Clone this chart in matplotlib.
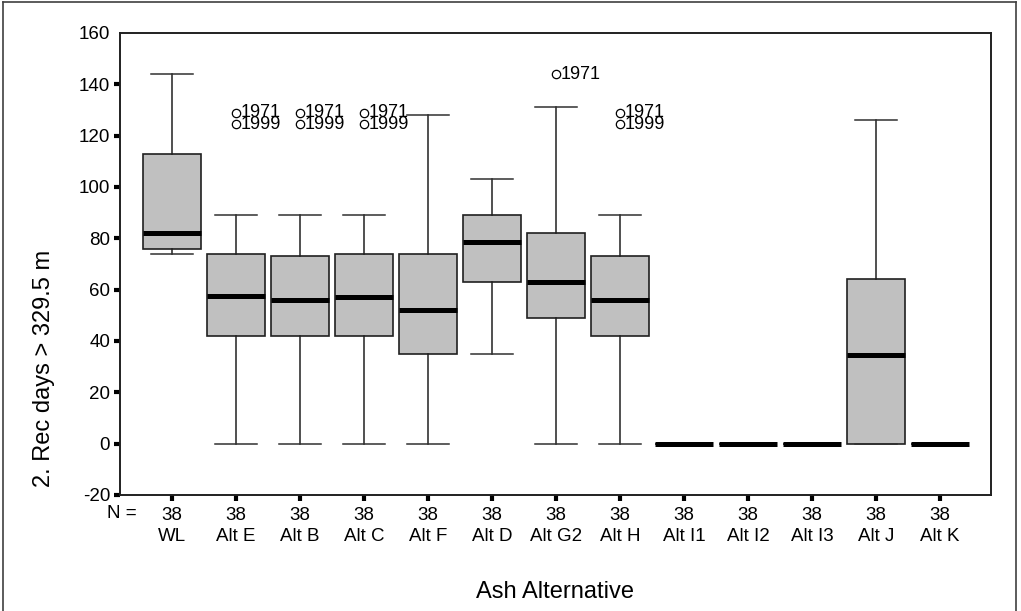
import matplotlib.pyplot as plt
from matplotlib.lines import Line2D

plt.rcParams['font.family'] = ['Liberation Sans', 'DejaVu Sans']
plt.rcParams['axes.unicode_minus'] = False

# box statistics
groups = ["WL", "Alt E", "Alt B", "Alt C", "Alt F", "Alt D", "Alt G2",
          "Alt H", "Alt I1", "Alt I2", "Alt I3", "Alt J", "Alt K"]
counts = [38, 38, 38, 38, 38, 38, 38, 38, 38, 38, 38, 38, 38]
whis_lo = [74, 0, 0, 0, 0, 35, 0, 0, 0, 0, 0, 0, 0]
q1 = [76, 42, 42, 42, 35, 63, 49, 42, 0, 0, 0, 0, 0]
median = [82, 57.5, 56, 57, 52, 78.5, 63, 56, 0, 0, 0, 34.5, 0]
q3 = [113, 74, 73, 74, 74, 89, 82, 73, 0, 0, 0, 64, 0]
whis_hi = [144, 89, 89, 89, 128, 103, 131, 89, 0, 0, 0, 126, 0]

# outliers: group index, value, case label
out_group = [1, 1, 2, 2, 3, 3, 6, 7, 7]
out_value = [129, 124.5, 129, 124.5, 129, 124.5, 144, 129, 124.5]
out_label = ["1971", "1999", "1971", "1999", "1971", "1999", "1971", "1971", "1999"]

stats = []
for i, g in enumerate(groups):
    stats.append({
        "label": g,
        "whislo": whis_lo[i],
        "q1": q1[i],
        "med": median[i],
        "q3": q3[i],
        "whishi": whis_hi[i],
        "fliers": [],
    })

fig = plt.figure(figsize=(10.21, 6.11), dpi=100)
ax = fig.add_axes([0.1175, 0.1899, 0.8531, 0.7561])

pos = list(range(len(groups)))
ax.bxp(stats, positions=pos, widths=0.92, patch_artist=True, showfliers=False,
       boxprops=dict(facecolor="#c0c0c0", edgecolor="#202020", linewidth=1.2),
       medianprops=dict(color="black", linewidth=3.6, solid_capstyle="butt"),
       whiskerprops=dict(color="#202020", linewidth=1.1),
       capprops=dict(color="#303030", linewidth=1.1),
       capwidths=0.66)

for g, v, lab in zip(out_group, out_value, out_label):
    ax.plot(pos[g], v, marker="o", markersize=6, markerfacecolor="none",
            markeredgecolor="black", markeredgewidth=0.9, linestyle="none")
    ax.annotate(lab, (pos[g], v), xytext=(3, 0), textcoords="offset points",
                ha="left", va="center", fontsize=13)

ax.set_xlim(-0.8125, 12.797)
ax.set_ylim(-20, 160)
ax.set_yticks(range(-20, 161, 20))
ax.set_xticks(pos)
ax.set_xticklabels([f"{n}\n{g}" for n, g in zip(counts, groups)], linespacing=1.3)
ax.tick_params(axis="both", direction="out", length=4, width=3, color="black",
               labelsize=13.5)
ax.tick_params(axis="x", pad=5)
ax.tick_params(axis="y", pad=3)
ax.yaxis.get_major_ticks()[-1].tick1line.set_visible(False)

for s in ax.spines.values():
    s.set_linewidth(1.4)
    s.set_color("#202020")

fig.text(122 / 1021, 1 - 513 / 611, "N =", ha="center", va="center", fontsize=13.5)
fig.text(555 / 1021, 1 - 592 / 611, "Ash Alternative", ha="center", va="center",
         fontsize=17)
fig.text(44 / 1021, 1 - 368 / 611, "2. Rec days > 329.5 m", ha="center",
         va="center", rotation=90, fontsize=17)

# outer frame
for xs, ys in [([3 / 1021, 3 / 1021], [0, 1 - 2 / 611]),
               ([3 / 1021, 1016 / 1021], [1 - 2 / 611, 1 - 2 / 611]),
               ([1016 / 1021, 1016 / 1021], [0, 1 - 2 / 611])]:
    fig.add_artist(Line2D(xs, ys, color="#404040", linewidth=1.2))

fig.savefig("out.png", dpi=100)
